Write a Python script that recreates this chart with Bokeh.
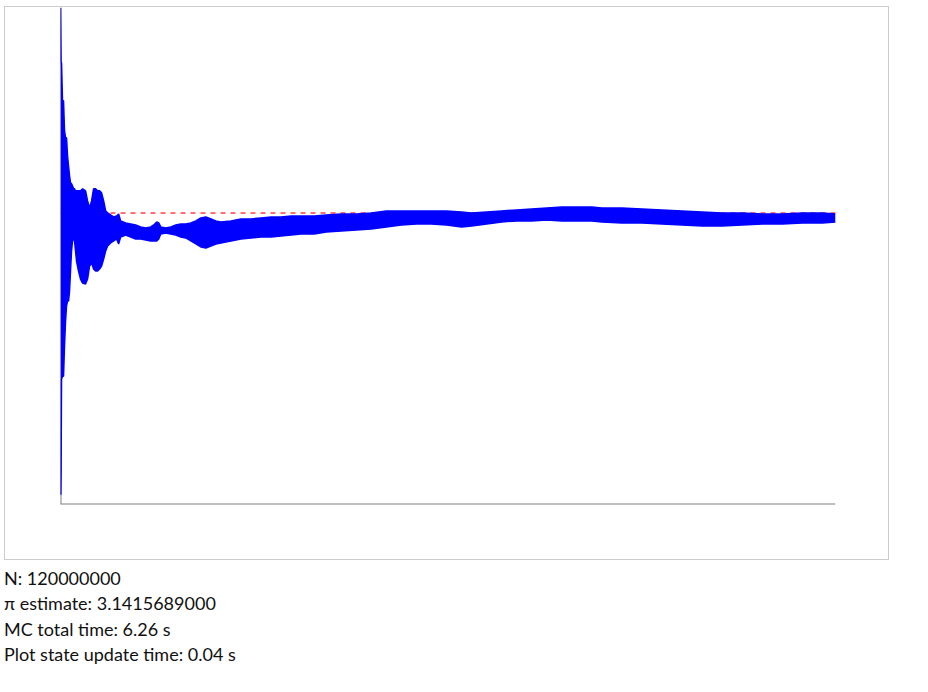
from bokeh.plotting import figure
from bokeh.models import Div, Range1d, FixedTicker
from bokeh.layouts import column
from bokeh.embed import file_html
from bokeh.resources import INLINE

# Running Monte Carlo estimate of pi: envelope of the trace
samples_m = [0, 0.05, 0.09, 0.16, 0.31, 0.47, 0.62, 0.78, 0.93, 1.09, 1.24, 1.40, 1.55, 1.71,
             1.86, 2.02, 2.17, 2.33, 2.48, 2.79, 3.10, 3.42, 3.88, 4.19, 4.50, 4.81, 5.12, 5.43,
             5.74, 6.05, 6.36, 6.68, 6.99, 7.30, 7.76, 8.23, 8.69, 9.00, 9.31, 10.09, 10.87,
             11.64, 12.42, 13.20, 13.97, 14.44, 14.90, 15.21, 15.52, 16.30, 17.08, 17.85, 18.63,
             19.40, 20.18, 20.96, 21.73, 22.51, 23.29, 24.06, 24.84, 26.39, 27.94, 29.50, 31.05,
             32.60, 34.15, 35.71, 37.26, 39.28, 41.14, 43.47, 45.80, 48.12, 50.45, 52.78, 55.11,
             57.44, 59.77, 62.10, 63.65, 65.98, 68.31, 70.63, 72.96, 75.29, 77.62, 79.95, 82.28,
             83.83, 86.93, 90.04, 93.14, 96.25, 99.35, 102.46, 105.56, 108.67, 111.77, 114.88,
             117.98, 120.00]

estimate_high = [4.0000, 3.8619, 3.7697, 3.7697, 3.6106, 3.6106, 3.4850, 3.4557, 3.4557, 3.3803,
                 3.3384, 3.2965, 3.2672, 3.2630, 3.2547, 3.2421, 3.2421, 3.2337, 3.2337, 3.2337,
                 3.2337, 3.2421, 3.2337, 3.1918, 3.1625, 3.1918, 3.2421, 3.2421, 3.2337, 3.2337,
                 3.2253, 3.1918, 3.1500, 3.1416, 3.1332, 3.1249, 3.1290, 3.1374, 3.1081, 3.0997,
                 3.0955, 3.0913, 3.0830, 3.0788, 3.0830, 3.0913, 3.1039, 3.0997, 3.0830, 3.0788,
                 3.0830, 3.0913, 3.0955, 3.0955, 3.0997, 3.1081, 3.1207, 3.1249, 3.1165, 3.1081,
                 3.1039, 3.1081, 3.1165, 3.1165, 3.1207, 3.1249, 3.1249, 3.1290, 3.1290, 3.1290,
                 3.1332, 3.1374, 3.1374, 3.1416, 3.1500, 3.1500, 3.1500, 3.1500, 3.1500, 3.1458,
                 3.1416, 3.1458, 3.1500, 3.1542, 3.1583, 3.1625, 3.1667, 3.1667, 3.1667, 3.1625,
                 3.1625, 3.1583, 3.1542, 3.1500, 3.1458, 3.1416, 3.1416, 3.1374, 3.1374, 3.1416,
                 3.1416, 3.1374]

estimate_low = [1.9649, 1.9649, 2.0612, 2.4465, 2.4590, 2.4590, 2.5846, 2.6893, 2.7522, 2.7731,
                2.7731, 2.8150, 2.8987, 2.9825, 3.0243, 3.0369, 3.0243, 2.9825, 2.9406, 2.8987,
                2.8652, 2.8485, 2.8443, 2.8652, 2.9197, 2.9322, 2.9071, 2.8987, 2.8987, 2.9071,
                2.9197, 2.9490, 2.9825, 3.0034, 3.0160, 3.0243, 3.0327, 3.0118, 3.0411, 3.0495,
                3.0411, 3.0327, 3.0327, 3.0285, 3.0243, 3.0243, 3.0243, 3.0327, 3.0537, 3.0578,
                3.0537, 3.0495, 3.0411, 3.0369, 3.0243, 3.0118, 2.9992, 2.9950, 3.0034, 3.0118,
                3.0160, 3.0243, 3.0327, 3.0369, 3.0411, 3.0411, 3.0453, 3.0495, 3.0537, 3.0537,
                3.0620, 3.0662, 3.0704, 3.0746, 3.0830, 3.0913, 3.0955, 3.0955, 3.0913, 3.0830,
                3.0872, 3.0955, 3.1039, 3.1081, 3.1081, 3.1123, 3.1081, 3.1081, 3.1081, 3.1039,
                3.0997, 3.0997, 3.0955, 3.0913, 3.0872, 3.0872, 3.0913, 3.0955, 3.0955, 3.0997,
                3.0997, 3.1039]

pi_ref = 3.141592653589793
n_total = 120000000
pi_estimate = 3.1415689
mc_total_time = 6.26
plot_update_time = 0.04

p = figure(width=885, height=554, output_backend="svg", toolbar_location=None,
           x_range=Range1d(0, 120), y_range=Range1d(1.923, 4.0),
           min_border_left=55, min_border_right=55, min_border_top=0, min_border_bottom=57,
           styles={"border": "1px solid #cccccc"})
p.grid.visible = False
p.outline_line_color = None
p.background_fill_color = "white"
p.border_fill_color = "white"
for ax in (p.xaxis[0], p.yaxis[0]):
    ax.ticker = FixedTicker(ticks=[])
    ax.axis_line_color = "#808080"
    ax.axis_line_width = 2
    ax.major_tick_line_color = None
    ax.minor_tick_line_color = None
    ax.major_label_text_font_size = "0px"
    ax.level = "underlay"

p.line([samples_m[0], samples_m[-1]], [pi_ref, pi_ref], line_color="#ff4d4d",
       line_alpha=0.8, line_width=2, line_dash="5 5")

p.varea(x=samples_m, y1=estimate_low, y2=estimate_high, fill_color="#0000ff")
p.line(samples_m, estimate_high, line_color="#0000ff", line_width=1.5)
p.line(samples_m, estimate_low, line_color="#0000ff", line_width=1.5)

info = Div(text=(f"N: {n_total}<br>"
                 f"π estimate: {pi_estimate:.10f}<br>"
                 f"MC total time: {mc_total_time:.2f} s<br>"
                 f"Plot state update time: {plot_update_time:.2f} s"),
           width=500, margin=(6, 0, 0, 0),
           styles={"font-family": "Lato", "font-size": "18px", "line-height": "25.3px",
                   "color": "#111111"})

layout = column(p, info, styles={"margin-left": "4px", "margin-top": "6px"})

open("out.html", "w").write(file_html(layout, INLINE))
